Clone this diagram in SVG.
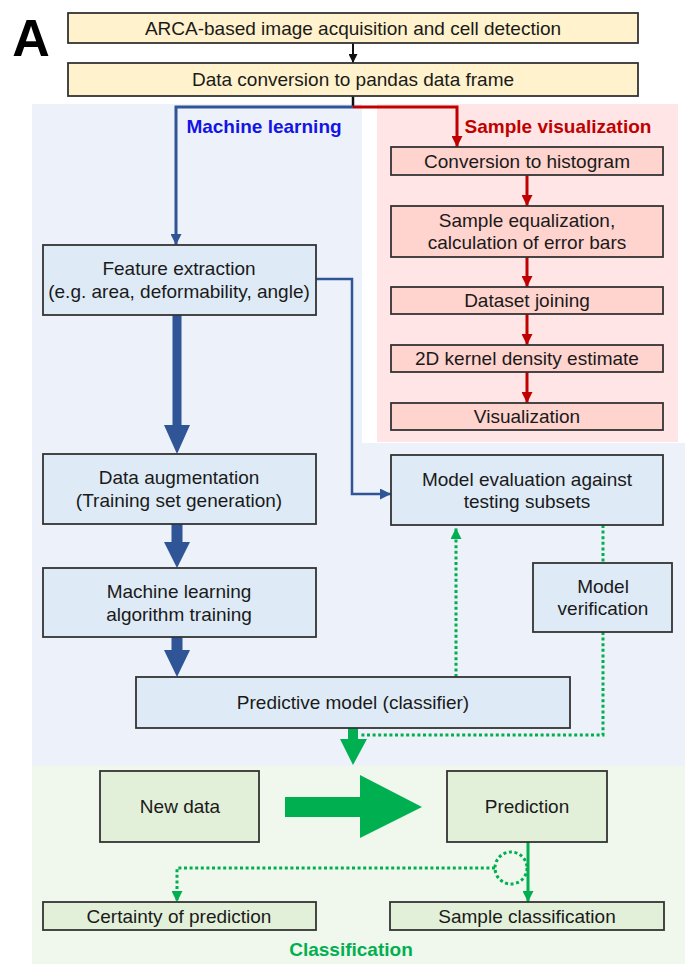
<svg xmlns="http://www.w3.org/2000/svg" width="685" height="964" viewBox="0 0 685 964">
<style>
text{font-family:"Liberation Sans",Arial,sans-serif;font-size:19px;fill:#1a1a1a;text-anchor:middle}
.lbl{font-weight:bold}
.box{stroke:#333;stroke-width:1.8}
.y{fill:#FFF2CC}.b{fill:#DEEBF7}.p{fill:#FFD3CE}.g{fill:#E2F0D9}
.dot{fill:none;stroke:#00B050;stroke-width:3;stroke-dasharray:3 2.6}
.red{fill:none;stroke:#C00000;stroke-width:3}
</style>
<defs>
<marker id="mk" markerUnits="userSpaceOnUse" viewBox="0 0 10 10" refX="10" refY="5" markerWidth="9" markerHeight="9" orient="auto"><path d="M0,0L10,5L0,10z" fill="#111"/></marker>
<marker id="mb" markerUnits="userSpaceOnUse" viewBox="0 0 10 10" refX="10" refY="5" markerWidth="11" markerHeight="11" orient="auto"><path d="M0,0L10,5L0,10z" fill="#2F5597"/></marker>
<marker id="mr" markerUnits="userSpaceOnUse" viewBox="0 0 10 10" refX="10" refY="5" markerWidth="11" markerHeight="11" orient="auto"><path d="M0,0L10,5L0,10z" fill="#C00000"/></marker>
<marker id="mg" markerUnits="userSpaceOnUse" viewBox="0 0 10 10" refX="10" refY="5" markerWidth="11" markerHeight="11" orient="auto"><path d="M0,0L10,5L0,10z" fill="#00B050"/></marker>
</defs>
<rect width="685" height="964" fill="#fff"/>
<g id="backgrounds">
<path d="M32,104H362V443H685V766H32z" fill="#EDF1F9"/>
<rect x="377" y="104" width="301" height="338" fill="#FFE5E5"/>
<rect x="32" y="766" width="653" height="198" fill="#F0F7EC"/>
</g>
<text x="31" y="56" class="lbl" style="font-size:52px;fill:#000">A</text>
<text x="264" y="133" class="lbl" style="fill:#1414E6">Machine learning</text>
<text x="558" y="133" class="lbl" style="fill:#C00000">Sample visualization</text>
<text x="351" y="956" class="lbl" style="fill:#00B050">Classification</text>
<g id="connectors">
<path d="M353,43V63" stroke="#111" stroke-width="2" fill="none" marker-end="url(#mk)"/>
<path d="M353,96V107" stroke="#111" stroke-width="2.5" fill="none"/>
<path d="M353,107H176V245" stroke="#2F5597" stroke-width="3" fill="none" marker-end="url(#mb)"/>
<path class="red" d="M353,107H457V147" marker-end="url(#mr)"/>
<path class="red" d="M527,175V206" marker-end="url(#mr)"/>
<path class="red" d="M527,257V287" marker-end="url(#mr)"/>
<path class="red" d="M527,314V345" marker-end="url(#mr)"/>
<path class="red" d="M527,372V403" marker-end="url(#mr)"/>
<path d="M316,279H352V494H391" stroke="#2F5597" stroke-width="2.5" fill="none" marker-end="url(#mb)"/>
<polygon points="172.5,315 181.5,315 181.5,425 190,425 177,454 164,425 172.5,425" fill="#2F5597"/>
<polygon points="171.5,524 182.5,524 182.5,542 190,542 177,568 164,542 171.5,542" fill="#2F5597"/>
<polygon points="171.5,637 182.5,637 182.5,650 190,650 177,677 164,650 171.5,650" fill="#2F5597"/>
<path class="dot" d="M603,632V735H360"/>
<path class="dot" d="M603,525V563"/>
<path class="dot" d="M456,677V528" marker-end="url(#mg)"/>
<polygon points="348,728 358,728 358,739 367,739 353,765 340,739 348,739" fill="#00B050"/>
<polygon points="285,797 360,797 360,775 422,807 360,838 360,817 285,817" fill="#00B050"/>
<path d="M528,842V902" stroke="#00B050" stroke-width="3" fill="none" marker-end="url(#mg)"/>
<circle class="dot" cx="511" cy="868" r="16"/>
<path class="dot" d="M495,868H177V902" marker-end="url(#mg)"/>
</g>
<g id="n-acq"><rect class="box y" x="68" y="13" width="570" height="30"/><text x="353" y="35">ARCA-based image acquisition and cell detection</text></g>
<g id="n-conv"><rect class="box y" x="68" y="63" width="570" height="33"/><text x="353" y="86">Data conversion to pandas data frame</text></g>
<g id="n-feat"><rect class="box b" x="43" y="245" width="273" height="70"/><text x="179" y="275">Feature extraction</text><text x="179" y="298">(e.g. area, deformability, angle)</text></g>
<g id="n-hist"><rect class="box p" x="391" y="147" width="272" height="28"/><text x="527" y="168">Conversion to histogram</text></g>
<g id="n-eq"><rect class="box p" x="391" y="206" width="272" height="51"/><text x="527" y="227">Sample equalization,</text><text x="527" y="249">calculation of error bars</text></g>
<g id="n-join"><rect class="box p" x="391" y="287" width="272" height="27"/><text x="527" y="307">Dataset joining</text></g>
<g id="n-kde"><rect class="box p" x="391" y="345" width="272" height="27"/><text x="527" y="365">2D kernel density estimate</text></g>
<g id="n-vis"><rect class="box p" x="391" y="403" width="272" height="27"/><text x="527" y="423">Visualization</text></g>
<g id="n-eval"><rect class="box b" x="391" y="455" width="272" height="70"/><text x="527" y="486">Model evaluation against</text><text x="527" y="508">testing subsets</text></g>
<g id="n-aug"><rect class="box b" x="43" y="454" width="273" height="70"/><text x="179" y="484">Data augmentation</text><text x="179" y="507">(Training set generation)</text></g>
<g id="n-train"><rect class="box b" x="43" y="568" width="273" height="69"/><text x="179" y="598">Machine learning</text><text x="179" y="621">algorithm training</text></g>
<g id="n-verif"><rect class="box b" x="533" y="563" width="139" height="69"/><text x="603" y="593">Model</text><text x="603" y="615">verification</text></g>
<g id="n-pred"><rect class="box b" x="136" y="677" width="434" height="51"/><text x="353" y="709">Predictive model (classifier)</text></g>
<g id="n-new"><rect class="box g" x="100" y="771" width="159" height="71"/><text x="180" y="813">New data</text></g>
<g id="n-prediction"><rect class="box g" x="447" y="771" width="160" height="71"/><text x="527" y="813">Prediction</text></g>
<g id="n-cert"><rect class="box g" x="43" y="902" width="273" height="28"/><text x="179" y="923">Certainty of prediction</text></g>
<g id="n-samp"><rect class="box g" x="390" y="902" width="274" height="28"/><text x="527" y="923">Sample classification</text></g>
</svg>
